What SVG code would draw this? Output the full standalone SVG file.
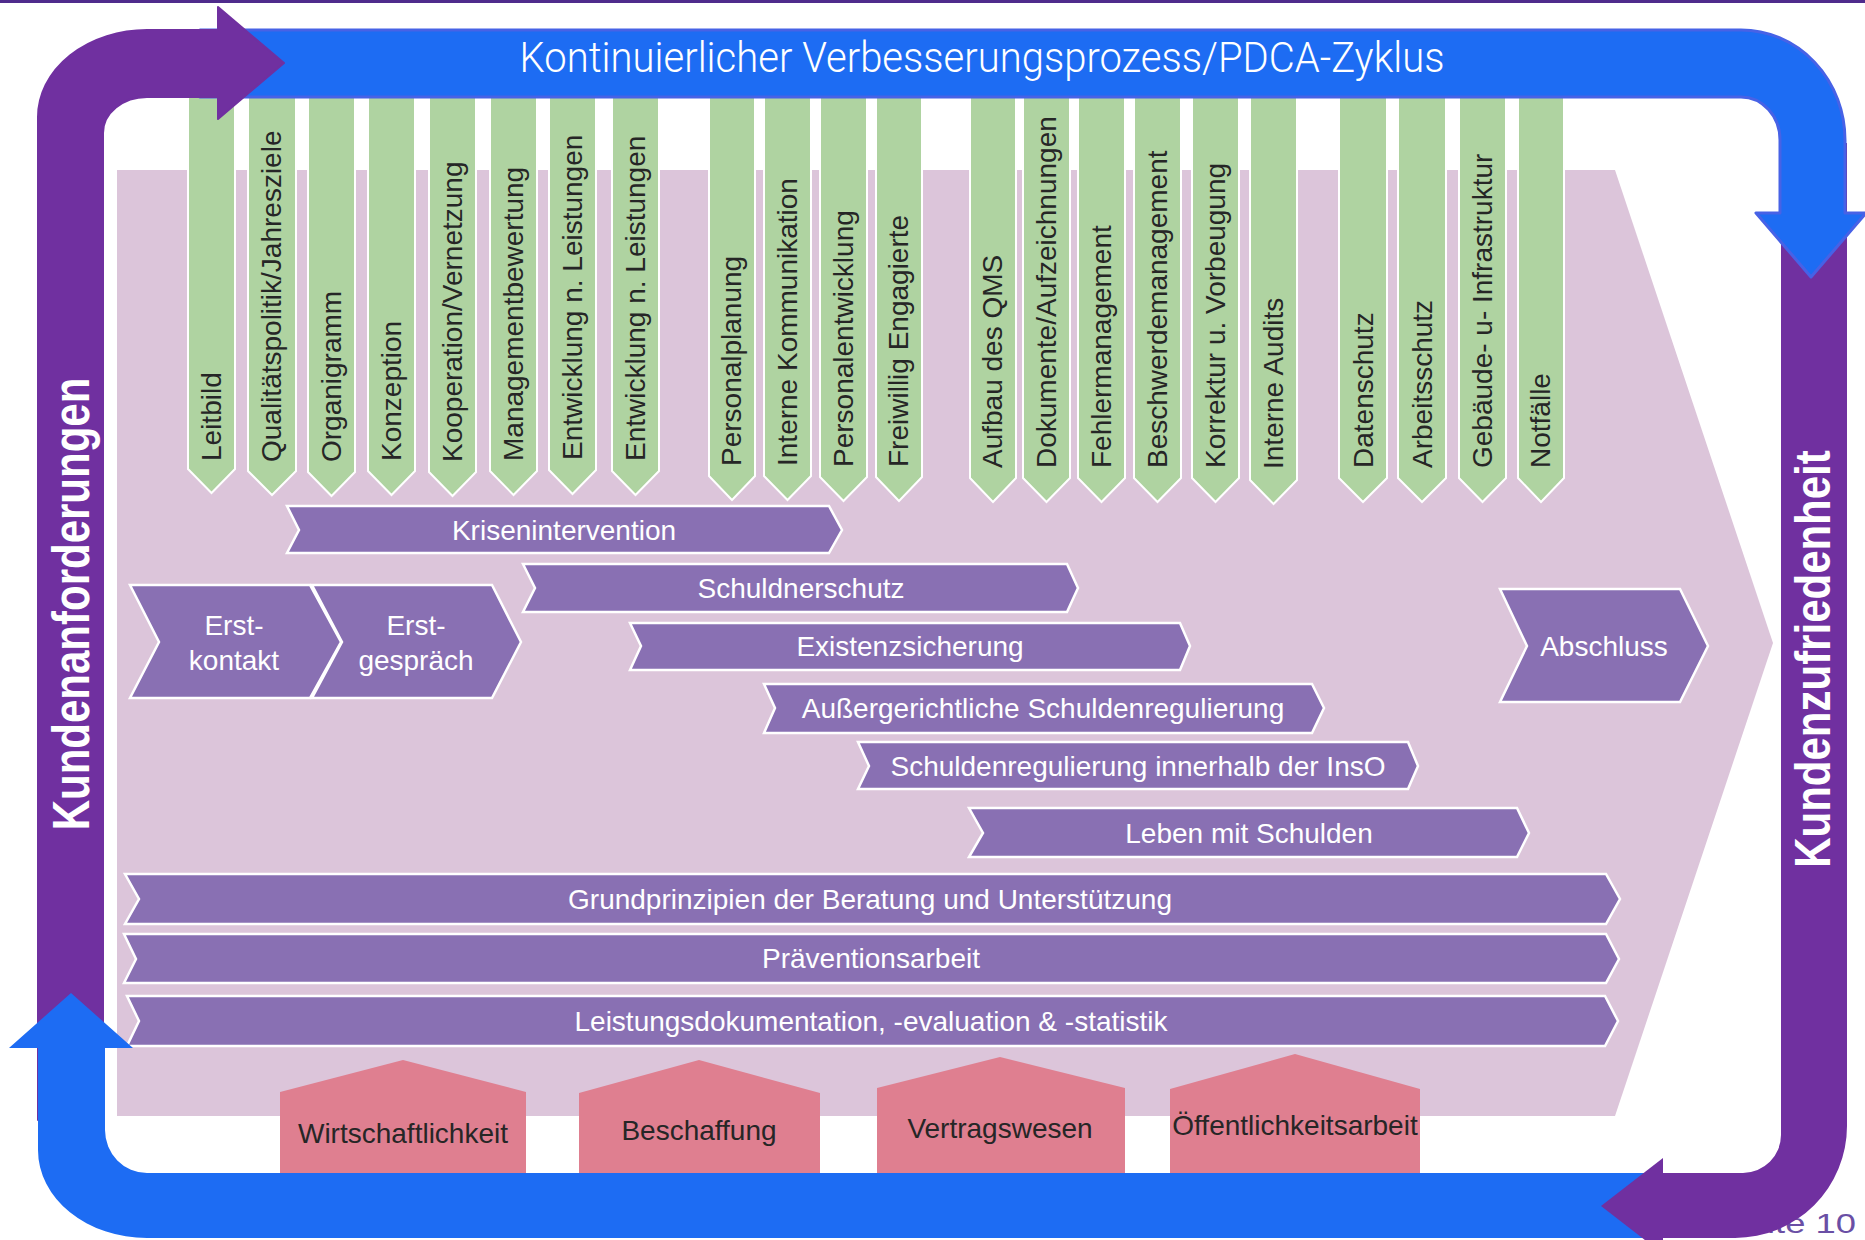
<svg xmlns="http://www.w3.org/2000/svg" width="1865" height="1240" viewBox="0 0 1865 1240">
  <style>
    .bar { fill: #afd3a1; stroke: #ffffff; stroke-width: 2; }
    .chev { fill: #8970b3; stroke: #ffffff; stroke-width: 2.5; stroke-linejoin: miter; }
    .house { fill: #df7f90; }
    .t { font-family: "Liberation Sans", Arial, sans-serif; font-size: 28px; }
    .dark { fill: #262626; }
    .light { fill: #ffffff; text-anchor: middle; }
    .mid { text-anchor: middle; }
    .vert { font-family: "Liberation Sans", Arial, sans-serif; font-size: 42px; font-weight: bold; fill: #ffffff; text-anchor: middle; }
    .purple { fill: #7030a0; }
    .blue { fill: #1d6cf3; }
  </style>

  <!-- header rule -->
  <rect x="0" y="0" width="1865" height="3" fill="#4f2b8c"/>

  <!-- page number (partly hidden by the loop) -->
  <text class="t" fill="#6a4fa5" text-anchor="end" transform="translate(1856,1233) scale(1.3,1)">Seite 10</text>

  <!-- process backdrop -->
  <path id="backdrop" d="M117,170 H1615 L1773,643 L1615,1116 H117 Z" fill="#dcc5da"/>

  <!-- management / support pillars -->
  <g id="pillars">
    <g id="p-leitbild"><path class="bar" d="M188,96 H235 V469 L211.5,493 L188,469 Z"/><text class="t dark" transform="translate(221,461) rotate(-90)">Leitbild</text></g>
    <g id="p-qualitaet"><path class="bar" d="M248,96 H296 V471 L272,495 L248,471 Z"/><text class="t dark" transform="translate(281,462) rotate(-90)">Qualitätspolitik/Jahresziele</text></g>
    <g id="p-organigramm"><path class="bar" d="M308,96 H355 V472 L331.5,496 L308,472 Z"/><text class="t dark" transform="translate(341,462) rotate(-90)">Organigramm</text></g>
    <g id="p-konzeption"><path class="bar" d="M368,96 H415 V471 L391.5,495 L368,471 Z"/><text class="t dark" transform="translate(401,461) rotate(-90)">Konzeption</text></g>
    <g id="p-kooperation"><path class="bar" d="M429,96 H476 V472 L452.5,496 L429,472 Z"/><text class="t dark" transform="translate(462,462) rotate(-90)">Kooperation/Vernetzung</text></g>
    <g id="p-managementbewertung"><path class="bar" d="M490,96 H537 V471 L513.5,495 L490,471 Z"/><text class="t dark" transform="translate(523,461) rotate(-90)">Managementbewertung</text></g>
    <g id="p-entwicklung-1"><path class="bar" d="M549,96 H596 V470 L572.5,494 L549,470 Z"/><text class="t dark" transform="translate(582,460) rotate(-90)">Entwicklung n. Leistungen</text></g>
    <g id="p-entwicklung-2"><path class="bar" d="M612,96 H659 V471 L635.5,495 L612,471 Z"/><text class="t dark" transform="translate(645,461) rotate(-90)">Entwicklung n. Leistungen</text></g>

    <g id="p-personalplanung"><path class="bar" d="M709,96 H755 V476 L732,500 L709,476 Z"/><text class="t dark" transform="translate(741,466) rotate(-90)">Personalplanung</text></g>
    <g id="p-kommunikation"><path class="bar" d="M764,96 H811 V476 L787.5,500 L764,476 Z"/><text class="t dark" transform="translate(797,466) rotate(-90)">Interne Kommunikation</text></g>
    <g id="p-personalentwicklung"><path class="bar" d="M820,96 H867 V477 L843.5,501 L820,477 Z"/><text class="t dark" transform="translate(853,467) rotate(-90)">Personalentwicklung</text></g>
    <g id="p-freiwillig"><path class="bar" d="M876,96 H922 V477 L899,501 L876,477 Z"/><text class="t dark" transform="translate(908,467) rotate(-90)">Freiwillig Engagierte</text></g>

    <g id="p-qms"><path class="bar" d="M970,96 H1016 V478 L993,502 L970,478 Z"/><text class="t dark" transform="translate(1002,468) rotate(-90)">Aufbau des QMS</text></g>
    <g id="p-dokumente"><path class="bar" d="M1023,96 H1070 V478 L1046.5,502 L1023,478 Z"/><text class="t dark" transform="translate(1056,468) rotate(-90)">Dokumente/Aufzeichnungen</text></g>
    <g id="p-fehler"><path class="bar" d="M1078,96 H1125 V478 L1101.5,502 L1078,478 Z"/><text class="t dark" transform="translate(1111,468) rotate(-90)">Fehlermanagement</text></g>
    <g id="p-beschwerde"><path class="bar" d="M1134,96 H1181 V478 L1157.5,502 L1134,478 Z"/><text class="t dark" transform="translate(1167,468) rotate(-90)">Beschwerdemanagement</text></g>
    <g id="p-korrektur"><path class="bar" d="M1192,96 H1239 V478 L1215.5,502 L1192,478 Z"/><text class="t dark" transform="translate(1225,468) rotate(-90)">Korrektur u. Vorbeugung</text></g>
    <g id="p-audits"><path class="bar" d="M1250,96 H1297 V480 L1273.5,504 L1250,480 Z"/><text class="t dark" transform="translate(1283,469) rotate(-90)">Interne Audits</text></g>

    <g id="p-datenschutz"><path class="bar" d="M1339,96 H1387 V478 L1363,502 L1339,478 Z"/><text class="t dark" transform="translate(1373,468) rotate(-90)">Datenschutz</text></g>
    <g id="p-arbeitsschutz"><path class="bar" d="M1398,96 H1446 V478 L1422,502 L1398,478 Z"/><text class="t dark" transform="translate(1432,468) rotate(-90)">Arbeitsschutz</text></g>
    <g id="p-gebaeude"><path class="bar" d="M1459,96 H1506 V478 L1482.5,502 L1459,478 Z"/><text class="t dark" transform="translate(1492,468) rotate(-90)">Gebäude- u- Infrastruktur</text></g>
    <g id="p-notfaelle"><path class="bar" d="M1518,96 H1564 V478 L1541,502 L1518,478 Z"/><text class="t dark" transform="translate(1550,468) rotate(-90)">Notfälle</text></g>
  </g>

  <!-- core process steps -->
  <g id="steps">
    <g id="s-erstkontakt"><path class="chev" d="M130,585 H310 L341,642 L310,698 H130 L159,642 Z"/>
      <text class="t light" x="234" y="635">Erst-</text><text class="t light" x="234" y="670">kontakt</text></g>
    <g id="s-erstgespraech"><path class="chev" d="M312,585 H492 L521,642 L492,698 H312 L342,642 Z"/>
      <text class="t light" x="416" y="635">Erst-</text><text class="t light" x="416" y="670">gespräch</text></g>
    <g id="s-krisenintervention"><path class="chev" d="M287,506 H829 L842,530 L829,553 H287 L299,530 Z"/>
      <text class="t light" x="564" y="540">Krisenintervention</text></g>
    <g id="s-schuldnerschutz"><path class="chev" d="M523,564 H1067 L1078,588 L1067,612 H523 L535,588 Z"/>
      <text class="t light" x="801" y="598">Schuldnerschutz</text></g>
    <g id="s-existenzsicherung"><path class="chev" d="M630,623 H1180 L1190,646 L1180,670 H630 L641,646 Z"/>
      <text class="t light" x="910" y="656">Existenzsicherung</text></g>
    <g id="s-aussergerichtlich"><path class="chev" d="M764,684 H1312 L1324,708 L1312,733 H764 L775,708 Z"/>
      <text class="t light" x="1043" y="718">Außergerichtliche Schuldenregulierung</text></g>
    <g id="s-inso"><path class="chev" d="M858,742 H1408 L1418,766 L1408,789 H858 L869,766 Z"/>
      <text class="t light" x="1138" y="776">Schuldenregulierung innerhalb der InsO</text></g>
    <g id="s-leben"><path class="chev" d="M969,808 H1517 L1529,833 L1517,857 H969 L983,833 Z"/>
      <text class="t light" x="1249" y="843">Leben mit Schulden</text></g>
    <g id="s-abschluss"><path class="chev" d="M1500,589 H1680 L1708,646 L1680,702 H1500 L1527,646 Z"/>
      <text class="t light" x="1604" y="656">Abschluss</text></g>
    <g id="s-grundprinzipien"><path class="chev" d="M125,874 H1606 L1620,899 L1606,924 H125 L139,899 Z"/>
      <text class="t light" x="870" y="909">Grundprinzipien der Beratung und Unterstützung</text></g>
    <g id="s-praevention"><path class="chev" d="M124,934 H1606 L1619,959 L1606,983 H124 L136,959 Z"/>
      <text class="t light" x="871" y="968">Präventionsarbeit</text></g>
    <g id="s-leistungsdoku"><path class="chev" d="M127,996 H1605 L1618,1021 L1605,1046 H127 L139,1021 Z"/>
      <text class="t light" x="871" y="1031">Leistungsdokumentation, -evaluation &amp; -statistik</text></g>
  </g>

  <!-- supporting functions -->
  <g id="foundations">
    <g id="f-wirtschaftlichkeit"><path class="house" d="M280,1092 L403,1060 L526,1092 V1176 H280 Z"/>
      <text class="t dark mid" x="403" y="1143">Wirtschaftlichkeit</text></g>
    <g id="f-beschaffung"><path class="house" d="M579,1093 L699,1060 L820,1093 V1176 H579 Z"/>
      <text class="t dark mid" x="699" y="1140">Beschaffung</text></g>
    <g id="f-vertragswesen"><path class="house" d="M877,1088 L1000,1057 L1125,1088 V1176 H877 Z"/>
      <text class="t dark mid" x="1000" y="1138">Vertragswesen</text></g>
    <g id="f-oeffentlichkeit"><path class="house" d="M1170,1089 L1295,1054 L1420,1089 V1176 H1170 Z"/>
      <text class="t dark mid" x="1295" y="1135">Öffentlichkeitsarbeit</text></g>
  </g>

  <!-- improvement cycle -->
  <g id="connectors">
    <!-- right leg, body -->
    <path class="purple" d="M1781,143 H1847 V1126 A112 112 0 0 1 1735 1238 H1655 V1173 H1743 A38 38 0 0 0 1781 1135 Z"/>
    <!-- top leg with downward head -->
    <path class="blue" stroke="#4762e6" stroke-width="3" stroke-linejoin="round"
          d="M200,30 H1741 A104 110 0 0 1 1845 140 V213 H1866 L1811,277 L1756,213 H1780 V140 A39 43 0 0 0 1741 97 H200 Z"/>
    <!-- left leg with right-pointing head -->
    <path class="purple" stroke="#7030a0" stroke-width="2" stroke-linejoin="round"
          d="M38,1120 V117 A109 87 0 0 1 147 30 H218 V7 L284,63 L218,119 V97 H147 A44 36 0 0 0 103 133 V1120 Z"/>
    <!-- bottom leg with upward head -->
    <path class="blue" stroke-linejoin="round"
          d="M1655,1173 H147 A42 43 0 0 1 105 1130 V1048 H133 L71,993 L9,1048 H38 V1150 A109 88 0 0 0 147 1238 H1655 Z"/>
    <!-- right leg, left-pointing head -->
    <path class="purple" d="M1663,1158 L1601,1206 L1663,1254 Z"/>
  </g>

  <!-- cycle labels -->
  <g id="cycle-labels">
    <text x="982" y="72" fill="#ffffff" text-anchor="middle" font-family="Roboto, 'Liberation Sans', sans-serif" font-weight="300" font-size="42" textLength="925" lengthAdjust="spacingAndGlyphs">Kontinuierlicher Verbesserungsprozess/PDCA-Zyklus</text>
    <text class="vert" transform="translate(89,604) rotate(-90) scale(1,1.25)">Kundenanforderungen</text>
    <text class="vert" transform="translate(1830,659) rotate(-90) scale(1,1.2)">Kundenzufriedenheit</text>
  </g>
</svg>
